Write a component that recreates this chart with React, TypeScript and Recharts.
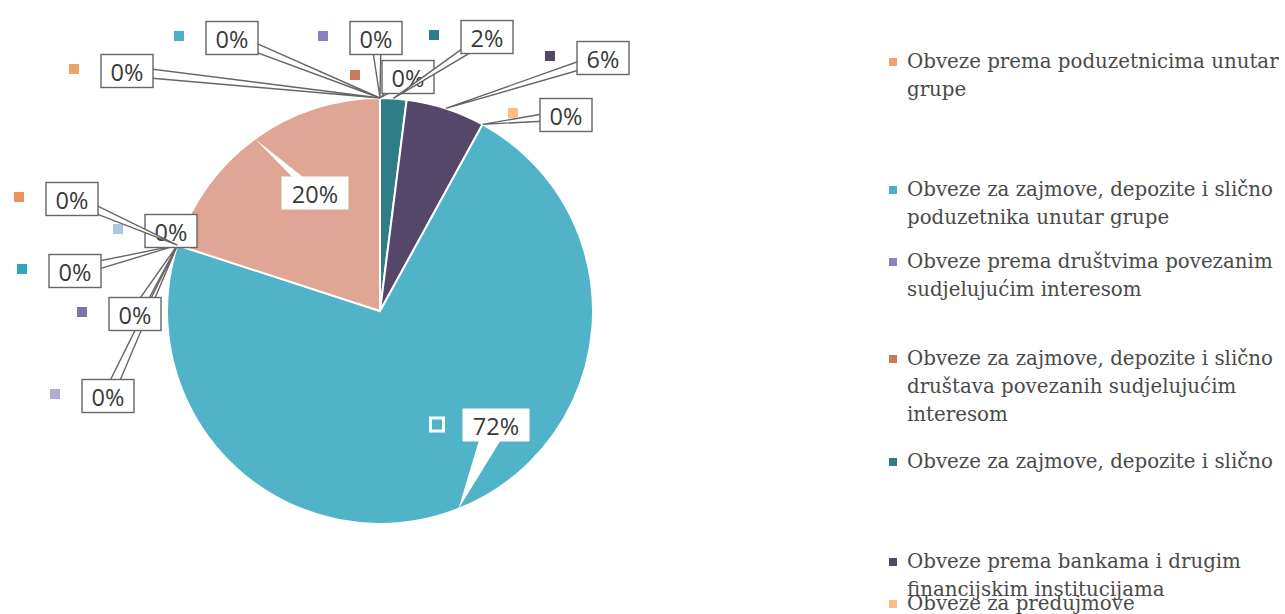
import React from "react";
import { PieChart, Pie, Cell } from "recharts";

// kategorije (redoslijed kao u izvornom grafu, u smjeru kazaljke od 12 sati)
const categories = [
  "Obveze prema poduzetnicima unutar grupe",
  "Obveze za zajmove, depozite i slično poduzetnika unutar grupe",
  "Obveze prema društvima povezanim sudjelujućim interesom",
  "Obveze za zajmove, depozite i slično društava povezanih sudjelujućim interesom",
  "Obveze za zajmove, depozite i slično",
  "Obveze prema bankama i drugim financijskim institucijama",
  "Obveze za predujmove",
  "Obveze prema dobavljačima",
  "Obveze po vrijednosnim papirima",
  "Obveze prema zaposlenicima",
  "Obveze za poreze, doprinose i slična davanja",
  "Obveze s osnove udjela u rezultatu",
  "Obveze po osnovi dugotrajne imovine namijenjene prodaji",
  "Ostale kratkoročne obveze",
];

const shares = [0, 0, 0, 0, 2, 6, 0, 72, 0, 0, 0, 0, 0, 20];

const colors = [
  "#f4a06c", "#4aaec6", "#8f80bf", "#c97b5b", "#2f7d87", "#54476a", "#fbbc88",
  "#50b3c8", "#b3aad8", "#7e72aa", "#33a6bd", "#adc6e6", "#f0905a", "#dfa595",
];

// položaj okvira oznake u odnosu na središte kruga
const labelOffsets = [
  [-253, -240], [-148, -273], [-4, -273], [28, -234], [107, -274], [223, -253], [186, -196],
  [116, 114], [-272, 85], [-245, 3], [-305, -40], [-209, -80], [-308, -112], [-65, -118],
];

// vrh prvog retka svake stavke legende (vidljive su samo prve)
const legendTops = [48, 176, 248, 345, 448, 548, 590];

const data = categories.map((name, i) => ({ name, value: shares[i] }));

const CX = 380;
const CY = 311;
const R = 213;
const RAD = Math.PI / 180;

const renderLabel = (props: any) => {
  const { cx, cy, midAngle, outerRadius, percent, index } = props;
  const ax = cx + outerRadius * Math.cos(-midAngle * RAD);
  const ay = cy + outerRadius * Math.sin(-midAngle * RAD);
  const [dx, dy] = labelOffsets[index];
  const bx = cx + dx;
  const by = cy + dy;
  const text = `${Math.round(percent * 100)}%`;
  const w = 22 + 15 * text.length;
  const h = 33;
  const inside = index === 7 || index === 13;
  const half = index === 7 ? 12 : 5;
  const vx = ax - bx;
  const vy = ay - by;
  const len = Math.sqrt(vx * vx + vy * vy) || 1;
  const px = (-vy / len) * half;
  const py = (vx / len) * half;
  const stroke = inside ? "none" : "#666666";
  return (
    <g key={`lbl-${index}`}>
      <polygon
        points={`${bx + px},${by + py} ${ax},${ay} ${bx - px},${by - py}`}
        fill="#fff"
        stroke={stroke}
        strokeWidth={1.4}
      />
      <rect x={bx - w / 2} y={by - h / 2} width={w} height={h} fill="#fff" stroke={stroke} strokeWidth={1.4} />
      {index !== 13 && (
        <rect
          x={bx - w / 2 - 32}
          y={by - 7}
          width={index === 7 ? 13 : 10}
          height={index === 7 ? 13 : 10}
          fill={colors[index]}
          stroke={index === 7 ? "#fff" : "none"}
          strokeWidth={3}
        />
      )}
      <text
        x={bx}
        y={by + 1}
        textAnchor="middle"
        dominantBaseline="central"
        fontFamily="'Open Sans', sans-serif"
        fontSize={23.5}
        fill="#3a3a3a"
      >
        {text}
      </text>
    </g>
  );
};

const ChartLegend = () => (
  <div>
    {legendTops.map((top, i) => (
      <div
        key={categories[i]}
        style={{
          position: "absolute",
          left: 889,
          top,
          width: 396,
          display: "flex",
          alignItems: "flex-start",
        }}
      >
        <span
          style={{
            width: 8,
            height: 8,
            marginTop: 10,
            marginRight: 10,
            background: colors[i],
            flexShrink: 0,
          }}
        />
        <span
          style={{
            fontFamily: "'DejaVu Serif', serif",
            fontSize: 19.8,
            lineHeight: "28px",
            color: "#4a4a4a",
          }}
        >
          {categories[i]}
        </span>
      </div>
    ))}
  </div>
);

export default function App() {
  return (
    <div
      style={{
        position: "absolute",
        left: 0,
        top: 0,
        width: 1285,
        height: 614,
        overflow: "hidden",
        background: "#fff",
      }}
    >
      <PieChart width={860} height={614} margin={{ top: 0, right: 0, bottom: 0, left: 0 }}>
        <Pie
          data={data}
          dataKey="value"
          nameKey="name"
          cx={CX}
          cy={CY}
          outerRadius={R}
          startAngle={90}
          endAngle={-270}
          stroke="#fff"
          strokeWidth={2}
          label={renderLabel}
          labelLine={false}
          isAnimationActive={false}
        >
          {data.map((d, i) => (
            <Cell key={d.name} fill={colors[i]} />
          ))}
        </Pie>
      </PieChart>
      <ChartLegend />
    </div>
  );
}
